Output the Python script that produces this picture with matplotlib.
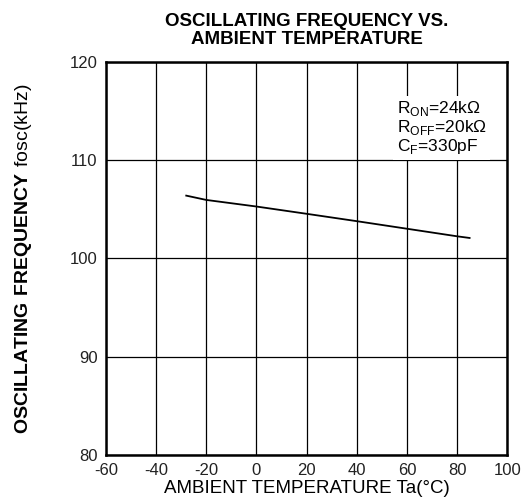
import matplotlib
matplotlib.use("Agg")
import matplotlib.pyplot as plt

plt.rcParams['font.family'] = ['Liberation Sans', 'DejaVu Sans']
plt.rcParams['mathtext.fontset'] = 'custom'
plt.rcParams['mathtext.rm'] = 'Liberation Sans'
plt.rcParams['mathtext.bf'] = 'Liberation Sans:bold'
plt.rcParams['axes.unicode_minus'] = False

# curve
temp_c = [-28, -20, 0, 20, 40, 60, 80, 85]
fosc_khz = [106.4, 105.96, 105.29, 104.55, 103.80, 103.03, 102.26, 102.09]

x_ticks = [-60, -40, -20, 0, 20, 40, 60, 80, 100]
y_ticks = [80, 90, 100, 110, 120]

fig = plt.figure(figsize=(5.3, 5.0), dpi=100)
ax = fig.add_axes([0.2, 0.09, 0.757, 0.786])

ax.plot(temp_c, fosc_khz, color='black', lw=1.3, zorder=3)

ax.set_xlim(-60, 100)
ax.set_ylim(80, 120)
ax.set_xticks(x_ticks)
ax.set_yticks(y_ticks)
ax.tick_params(length=0, labelsize=12, pad=6, colors='#222222')
ax.grid(True, color='black', lw=0.9)
for s in ax.spines.values():
    s.set_linewidth(1.8)

ax.set_title("OSCILLATING FREQUENCY VS.\nAMBIENT TEMPERATURE",
             fontsize=13.5, fontweight='bold', linespacing=1.05, pad=13)
ax.set_xlabel("AMBIENT TEMPERATURE Ta(°C)", fontsize=13.5, labelpad=1)
ax.set_ylabel(r"$\mathbf{OSCILLATING\ FREQUENCY}\ \mathrm{fosc(kHz)}$",
              fontsize=14, labelpad=26)

ax.text(0.725, 0.905,
        "R$_{\\mathrm{ON}}$=24kΩ\nR$_{\\mathrm{OFF}}$=20kΩ\nC$_{\\mathrm{F}}$=330pF",
        transform=ax.transAxes, fontsize=12.5, va='top', ha='left', linespacing=1.0,
        bbox=dict(boxstyle='square,pad=0.2', fc='white', ec='none'), zorder=4)

fig.savefig("out.png", dpi=100)
